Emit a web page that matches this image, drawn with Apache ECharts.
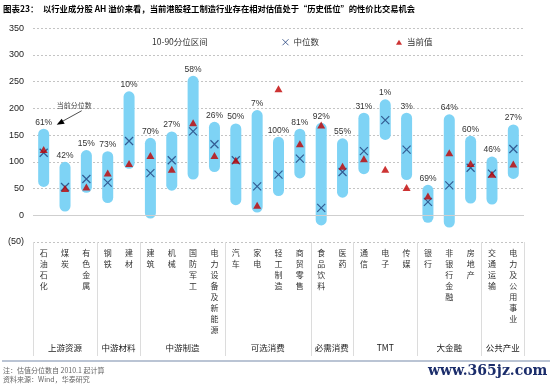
<!DOCTYPE html>
<html>
<head>
<meta charset="utf-8">
<script src="https://cdn.jsdelivr.net/npm/echarts@6/dist/echarts.min.js"></script>
<style>html,body{margin:0;padding:0;background:#fff}#c{width:550px;height:387px}</style>
</head>
<body>
<div id="c"></div>
<script>
var categories = ['石油石化','煤炭','有色金属','钢铁','建材','建筑','机械','国防军工','电力设备及新能源','汽车','家电','轻工制造','商贸零售','食品饮料','医药','通信','电子','传媒','银行','非银行金融','房地产','交通运输','电力及公用事业'];
var rangeHigh = [162,100,122,120,232,145,157,261,175,172,197,147,162,173,144,192,217,192,57,189,149,110,170];
var rangeLow  = [53,7,42,23,87,-6,46,67,81,19,5,36,69,-19,33,77,141,66,-14,-23,22,20,68];
var medianVals = [117,53,68,61,139,79,103,157,133,103,54,76,106,14,81,120,178,123,25,56,89,78,124];
var currentVals = [123,50,53,79,97,112,86,173,112,103,19,237,134,169,92,106,86,52,36,117,97,77,96];
var pctLabels = ['61%','42%','15%','73%','10%','70%','27%','58%','26%','50%','7%','100%','81%','92%','55%','31%','1%','3%','69%','64%','60%','46%','27%'];
var groupNames = ['上游资源','中游材料','中游制造','可选消费','必需消费','TMT','大金融','公共产业'];
var groupSizes = [3,2,4,4,2,3,3,2];
var yTicks = [-50,0,50,100,150,200,250,300,350];

var FONT = '"Noto Sans CJK SC", "Liberation Sans", sans-serif';
var chart = echarts.init(document.getElementById('c'), null, {renderer:'canvas'});

var rangeData = categories.map(function(c,i){ return [i, rangeLow[i], rangeHigh[i]]; });

var option = {
  animation:false,
  backgroundColor:'#fff',
  textStyle:{fontFamily:FONT},
  grid:{left:33, right:26, top:28.3, bottom:145, containLabel:false},
  legend:[
    {data:[{name:'10-90分位区间', icon:'none'}], left:140, top:33, itemWidth:2, itemHeight:6, itemGap:0,
     textStyle:{fontSize:8.5, color:'#333', fontFamily:FONT}, selectedMode:false},
    {data:[{name:'中位数', itemStyle:{color:'rgba(0,0,0,0)', borderColor:'#1f3f7a', borderWidth:1}}], left:277, top:33, itemWidth:6, itemHeight:6,
     textStyle:{fontSize:8.5, color:'#333', fontFamily:FONT}, selectedMode:false},
    {data:[{name:'当前值'}], left:391, top:33, itemWidth:6, itemHeight:5,
     textStyle:{fontSize:8.5, color:'#333', fontFamily:FONT}, selectedMode:false}
  ],
  xAxis:{
    type:'category', data:categories,
    axisLine:{show:false, onZero:false}, axisTick:{show:false},
    axisLabel:{interval:0, margin:5, fontSize:8, lineHeight:11, color:'#333', verticalAlign:'top',
      fontFamily:FONT,
      formatter:function(v){ return v.split('').join('\n'); }}
  },
  yAxis:{
    type:'value', min:-50, max:350, interval:50,
    axisLine:{show:false}, axisTick:{show:false},
    axisLabel:{fontSize:9, color:'#222', margin:9, fontFamily:'"Liberation Sans", Arial, sans-serif',
      formatter:function(v){ return v<0 ? '('+(-v)+')' : String(v); }},
    splitLine:{lineStyle:{color:'#c4c4c4', type:[2,2], width:1}}
  },
  series:[
    {
      name:'10-90分位区间', type:'custom',
      itemStyle:{color:'#7ed3f5'},
      data:rangeData,
      encode:{x:0, y:[1,2]},
      renderItem:function(params, api){
        var x = api.value(0);
        var top = api.coord([x, api.value(2)]);
        var bot = api.coord([x, api.value(1)]);
        var w = 11;
        return {type:'group', children:[
          {type:'rect', shape:{x:top[0]-w/2, y:top[1], width:w, height:bot[1]-top[1], r:w/2},
           style:{fill:'#7ed3f5'}},
          {type:'text', x:top[0], y:top[1]-6.5,
           style:{text:pctLabels[params.dataIndex], fill:'#333', fontSize:8.5, align:'center', verticalAlign:'middle',
                  fontFamily:'"Liberation Sans", Arial, sans-serif'}}
        ]};
      },
      markLine:{silent:true, symbol:'none', label:{show:false},
        lineStyle:{color:'#cfcfcf', type:'solid', width:1}, data:[{yAxis:0}]},
      z:2
    },
    {
      name:'中位数', type:'scatter', data:medianVals,
      symbol:'path://M0,0L10,10M10,0L0,10', symbolSize:8,
      itemStyle:{color:'rgba(0,0,0,0)', borderColor:'#1f3f7a', borderWidth:1.2},
      z:4
    },
    {
      name:'当前值', type:'scatter', data:currentVals,
      symbol:'triangle', symbolSize:[8,7],
      itemStyle:{color:'#c00000'},
      z:5
    }
  ]
};
chart.setOption(option);

// decorations computed from the axes
var p0 = chart.convertToPixel({xAxisIndex:0}, 0);
var p1 = chart.convertToPixel({xAxisIndex:0}, 1);
var band = p1 - p0;
var yBottom = chart.convertToPixel({yAxisIndex:0}, -50);
var g = [];
var start = 0;
var bounds = [0];
groupSizes.forEach(function(s){ start += s; bounds.push(start); });
bounds.forEach(function(b){
  var x = Math.round(p0 - band/2 + b*band) + 0.5;
  g.push({type:'line', shape:{x1:x, y1:yBottom, x2:x, y2:356}, style:{stroke:'#dcdcdc', lineWidth:1}, silent:true});
});
groupNames.forEach(function(n,i){
  var xa = p0 - band/2 + bounds[i]*band, xb = p0 - band/2 + bounds[i+1]*band;
  g.push({type:'text', x:(xa+xb)/2, y:348, style:{text:n, fill:'#222', fontSize:8.5, align:'center', verticalAlign:'middle', fontFamily:FONT}, silent:true});
});
// title
g.push({type:'text', x:3, y:9, style:{text:'图表23：', fill:'#000', fontSize:8.5, fontWeight:'bold', verticalAlign:'middle', fontFamily:FONT}});
g.push({type:'text', x:43, y:9, style:{text:'以行业成分股 AH 溢价来看，当前港股轻工制造行业存在相对估值处于“历史低位”的性价比交易机会', fill:'#000', fontSize:8.3, fontWeight:'bold', verticalAlign:'middle', fontFamily:FONT}});
// annotation pointing at first percentile label
var a = chart.convertToPixel({xAxisIndex:0, yAxisIndex:0}, [0, rangeHigh[0]]);
g.push({type:'text', x:a[0]+13, y:a[1]-23, style:{text:'当前分位数', fill:'#444', fontSize:7, verticalAlign:'middle', fontFamily:FONT}});
g.push({type:'line', shape:{x1:a[0]+38, y1:a[1]-18, x2:a[0]+18, y2:a[1]-7}, style:{stroke:'#222', lineWidth:0.8}});
g.push({type:'polygon', shape:{points:[[a[0]+13,a[1]-4],[a[0]+18,a[1]-10],[a[0]+21,a[1]-5]]}, style:{fill:'#000'}});
// bottom rule and notes
g.push({type:'line', shape:{x1:2, y1:361, x2:550, y2:361}, style:{stroke:'#a3b1c6', lineWidth:1.5}});
g.push({type:'text', x:3, y:370, style:{text:'注：估值分位数自 2010.1 起计算', fill:'#666', fontSize:7, verticalAlign:'middle', fontFamily:FONT}});
g.push({type:'text', x:3, y:379, style:{text:'资料来源：Wind，华泰研究', fill:'#666', fontSize:7, verticalAlign:'middle', fontFamily:FONT}});
g.push({type:'text', x:428, y:371, style:{text:'www.365jz.com', fill:'#1b2d6b', fontSize:14, fontWeight:'bold', verticalAlign:'middle', fontFamily:'"DejaVu Serif", serif'}});
chart.setOption({graphic:{elements:g}});
</script>
</body>
</html>
